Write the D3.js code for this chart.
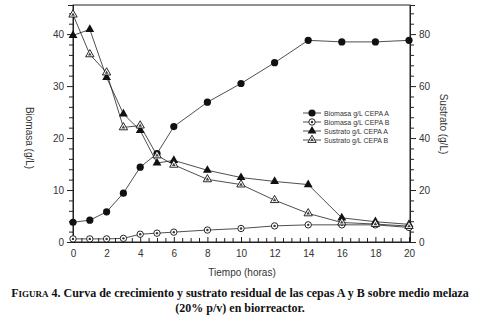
<!DOCTYPE html>
<html>
<head>
<meta charset="utf-8">
<script src="https://cdn.jsdelivr.net/npm/d3@7"></script>
<style>
  body { margin: 0; background: #fff; }
  svg text { font-family: "Liberation Sans", Arial, sans-serif; }
  svg text.caption { font-family: "Liberation Serif", "Times New Roman", serif; }
</style>
</head>
<body>
<div id="chart"></div>
<script>
const tiempo = [0, 1, 2, 3, 4, 5, 6, 8, 10, 12, 14, 16, 18, 20];
const biomasaA = [3.8, 4.2, 5.8, 9.4, 14.4, 17.0, 22.2, 26.9, 30.5, 34.5, 38.8, 38.5, 38.5, 38.8];
const biomasaB = [0.6, 0.6, 0.6, 0.7, 1.5, 1.7, 1.9, 2.3, 2.6, 3.1, 3.3, 3.3, 3.3, 2.8];
const sustratoA = [79.5, 81.8, 63.3, 49.3, 42.9, 30.4, 31.4, 27.6, 24.8, 23.3, 22.1, 9.3, 7.8, 6.8];
const sustratoB = [87.5, 72.2, 65.2, 44.1, 44.8, 33.3, 29.7, 24.1, 22.1, 16.1, 11.0, 7.5, 6.9, 6.1];
const leftTicks = [0, 10, 20, 30, 40];
const rightTicks = [0, 20, 40, 60, 80];
const xTicks = [0, 2, 4, 6, 8, 10, 12, 14, 16, 18, 20];
const legendLabels = ["Biomasa g/L CEPA A", "Biomasa g/L CEPA  B", "Sustrato g/L CEPA  A", "Sustrato g/L CEPA  B"];

const W = 479, H = 319;
const margin = {top: 5, right: 70, bottom: 77, left: 73};
const width = W - margin.left - margin.right,
      height = H - margin.top - margin.bottom;

const svg = d3.select("#chart")
  .append("svg")
    .attr("width", W)
    .attr("height", H);
const g = svg.append("g")
    .attr("transform", `translate(${margin.left}, ${margin.top})`);

const x = d3.scaleLinear().domain([0, 20]).range([0, 336]);
const yL = d3.scaleLinear().domain([0, 45.6]).range([height, 0]);
const yR = d3.scaleLinear().domain([0, 91.2]).range([height, 0]);

const ink = "#222";
const tickColor = "#333";

// frame
g.append("rect")
  .attr("width", 337).attr("height", height)
  .attr("fill", "none").attr("stroke", ink).attr("stroke-width", 1);

// left axis
const left = g.append("g")
  .call(d3.axisLeft(yL).tickValues(d3.range(0, 46, 2)).tickSize(5).tickFormat(""));
left.call(a => a.selectAll(".tick line").attr("x2", d => d % 10 === 0 ? -6 : -4));
g.append("g")
  .call(d3.axisLeft(yL).tickValues(leftTicks).tickSize(0).tickPadding(9));

// right axis
const right = g.append("g")
  .attr("transform", `translate(337,0)`)
  .call(d3.axisRight(yR).tickValues(d3.range(0, 92, 4)).tickFormat("").tickSize(5));
right.call(a => a.selectAll(".tick line").attr("x2", d => d % 20 === 0 ? 6 : 4));
g.append("g")
  .attr("transform", `translate(337,0)`)
  .call(d3.axisRight(yR).tickValues(rightTicks).tickSize(0).tickPadding(9));

// bottom axis, ticks pointing inward
const bottom = g.append("g")
  .attr("transform", `translate(0, ${height})`)
  .call(d3.axisBottom(x).tickValues(d3.range(0, 20.1, 0.5)).tickFormat("").tickSize(-4));
bottom.call(a => a.selectAll(".tick line").attr("y2", d => d % 2 === 0 ? -5 : -4));
g.append("g")
  .attr("transform", `translate(0, ${height})`)
  .call(d3.axisBottom(x).tickValues(xTicks).tickSize(0).tickPadding(8));

g.selectAll(".domain").attr("stroke", ink);
g.selectAll(".tick line").attr("stroke", ink);
g.selectAll(".tick text").attr("font-size", 10).attr("fill", tickColor);

// axis titles
svg.append("text")
  .attr("transform", "translate(26, 138) rotate(90)")
  .attr("text-anchor", "middle")
  .attr("font-size", 10).attr("fill", tickColor)
  .text("Biomasa  (g/L)");
svg.append("text")
  .attr("transform", "translate(440, 124) rotate(90)")
  .attr("text-anchor", "middle")
  .attr("font-size", 10).attr("fill", tickColor)
  .text("Sustrato  (g/L)");
svg.append("text")
  .attr("x", 242).attr("y", 276)
  .attr("text-anchor", "middle")
  .attr("font-size", 10).attr("fill", tickColor)
  .text("Tiempo (horas)");

// series
const series = [
  {vals: biomasaA, y: yL, sym: "circleFull"},
  {vals: biomasaB, y: yL, sym: "circleOpen"},
  {vals: sustratoA, y: yR, sym: "triFull"},
  {vals: sustratoB, y: yR, sym: "triOpen"}
];

function drawMarker(sel, sym) {
  if (sym === "circleFull") {
    sel.append("circle").attr("r", 3.6).attr("fill", "#111");
  } else if (sym === "circleOpen") {
    sel.append("circle").attr("r", 3.2).attr("fill", "#fff").attr("stroke", "#111").attr("stroke-width", 0.9);
    sel.append("circle").attr("r", 1.2).attr("fill", "#333");
  } else if (sym === "triFull") {
    sel.append("path").attr("d", d3.symbol(d3.symbolTriangle, 34)()).attr("fill", "#111");
  } else {
    sel.append("path").attr("d", d3.symbol(d3.symbolTriangle, 30)())
      .attr("fill", "#fff").attr("stroke", "#111").attr("stroke-width", 0.9);
    sel.append("path").attr("d", d3.symbol(d3.symbolTriangle, 6)()).attr("fill", "#444");
  }
}

series.forEach(s => {
  const pts = tiempo.map((t, i) => ({t: t, v: s.vals[i]}));
  g.append("path")
    .datum(pts)
    .attr("fill", "none")
    .attr("stroke", ink)
    .attr("stroke-width", 0.8)
    .attr("d", d3.line().x(d => x(d.t)).y(d => s.y(d.v)));
});
series.forEach(s => {
  const pts = tiempo.map((t, i) => ({t: t, v: s.vals[i]}));
  g.selectAll(null)
    .data(pts)
    .enter().append("g")
      .attr("transform", d => `translate(${x(d.t)}, ${s.y(d.v)})`)
      .each(function() { drawMarker(d3.select(this), s.sym); });
});

// legend
const legend = svg.append("g").attr("transform", "translate(303, 113)");
legendLabels.forEach((lab, i) => {
  const row = legend.append("g").attr("transform", `translate(0, ${i * 9})`);
  row.append("line").attr("x1", 0).attr("x2", 18).attr("stroke", ink).attr("stroke-width", 0.8);
  drawMarker(row.append("g").attr("transform", "translate(9,0)"), series[i].sym);
  row.append("text").attr("x", 21).attr("y", 2.5)
    .attr("font-size", 7).attr("fill", tickColor).text(lab);
});

// caption
const cap = svg.append("text")
  .attr("class", "caption")
  .attr("text-anchor", "middle")
  .attr("font-weight", "bold")
  .attr("font-size", 12)
  .attr("fill", "#111");
const l1 = cap.append("tspan").attr("x", 240).attr("y", 297);
l1.append("tspan").text("F");
l1.append("tspan").attr("font-size", 9).text("IGURA");
l1.append("tspan").text(" 4. Curva de crecimiento y sustrato residual de las cepas A y B sobre medio melaza");
cap.append("tspan").attr("x", 240).attr("y", 312).text("(20% p/v) en biorreactor.");
</script>
</body>
</html>
